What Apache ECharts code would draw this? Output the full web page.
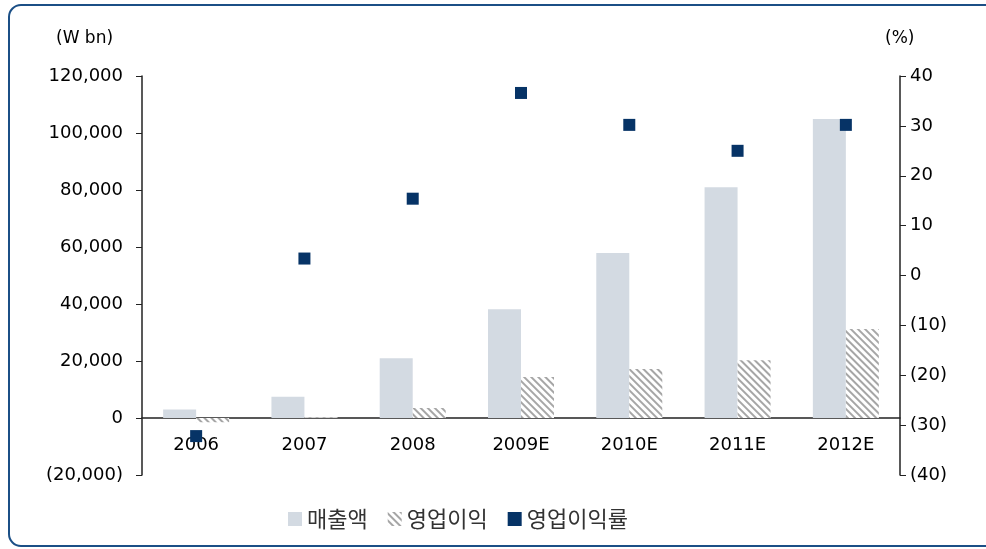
<!DOCTYPE html>
<html>
<head>
<meta charset="utf-8">
<script src="https://cdn.jsdelivr.net/npm/echarts@6/dist/echarts.min.js"></script>
<style>
html,body{margin:0;padding:0;background:#fff;overflow:hidden;}
#frame{position:absolute;left:8px;top:4px;width:1000px;height:543px;border:2.5px solid #1b4f86;border-radius:13px;box-sizing:border-box;}
#chart{position:absolute;left:0;top:0;width:986px;height:549px;}
</style>
</head>
<body>
<div id="frame"></div>
<div id="chart"></div>
<script>
var categories = ['2006', '2007', '2008', '2009E', '2010E', '2011E', '2012E'];
var sales = [3000, 7500, 21000, 38200, 57900, 81000, 104900];
var opProfit = [-1500, 250, 3500, 14400, 17200, 20300, 31200];
var opMargin = [-32.2, 3.4, 15.4, 36.6, 30.2, 25.0, 30.2];
var seriesNames = ['매출액', '영업이익', '영업이익률'];
var leftUnit = '(W bn)';
var rightUnit = '(%)';

function fmt(v) {
  var neg = v < 0;
  var s = String(Math.abs(v)).replace(/\B(?=(\d{3})+(?!\d))/g, ',');
  return neg ? '(' + s + ')' : s;
}

var FONT = 'DejaVu Sans';
var KFONT = 'Noto Sans CJK KR';
var chart = echarts.init(document.getElementById('chart'));
chart.setOption({
  animation: false,
  backgroundColor: 'transparent',
  grid: { left: 142, right: 86, top: 76, bottom: 74, containLabel: false },
  graphic: [
    { type: 'text', left: 56, top: 30, style: { text: leftUnit, font: '17px "DejaVu Sans"', fill: '#000' } },
    { type: 'text', left: 885, top: 30, style: { text: rightUnit, font: '17px "DejaVu Sans"', fill: '#000' } }
  ],
  legend: {
    bottom: 14,
    left: 283,
    itemWidth: 14,
    itemHeight: 14,
    itemGap: 20,
    textStyle: { fontFamily: KFONT, fontSize: 22, color: '#333' },
    data: [
      { name: seriesNames[0], icon: 'rect' },
      { name: seriesNames[1], icon: 'rect' },
      { name: seriesNames[2], icon: 'rect' }
    ]
  },
  xAxis: {
    type: 'category',
    data: categories,
    offset: -57,
    axisLine: { onZero: false, lineStyle: { color: '#222', width: 1.5 } },
    axisTick: { inside: true, length: 6, lineStyle: { color: '#222' } },
    axisLabel: { margin: 18, fontFamily: FONT, fontSize: 18, color: '#000' }
  },
  yAxis: [
    {
      type: 'value', min: -20000, max: 120000, interval: 20000,
      splitLine: { show: false },
      axisLine: { show: true, lineStyle: { color: '#222', width: 1.5 } },
      axisTick: { show: true, length: 6, lineStyle: { color: '#222' } },
      axisLabel: { margin: 19, fontFamily: FONT, fontSize: 18, color: '#000', formatter: fmt }
    },
    {
      type: 'value', min: -40, max: 40, interval: 10, position: 'right',
      splitLine: { show: false },
      axisLine: { show: true, lineStyle: { color: '#222', width: 1.5 } },
      axisTick: { show: true, length: 6, lineStyle: { color: '#222' } },
      axisLabel: { margin: 10, fontFamily: FONT, fontSize: 18, color: '#000', formatter: fmt }
    }
  ],
  series: [
    {
      name: seriesNames[0], type: 'bar', data: sales, barWidth: 33, barGap: '0%',
      itemStyle: { color: '#d3dae2' }
    },
    {
      name: seriesNames[1], type: 'bar', data: opProfit, barWidth: 33, barGap: '0%',
      itemStyle: {
        color: '#ffffff',
        decal: { symbol: 'rect', symbolSize: 1, dashArrayX: [[1, 0]], dashArrayY: [1.5, 2.5], rotation: Math.PI / 4, color: '#a6a6a6' }
      }
    },
    {
      name: seriesNames[2], type: 'scatter', yAxisIndex: 1, data: opMargin, symbol: 'rect', symbolSize: 12,
      itemStyle: { color: '#063366', opacity: 1 }, z: 5
    }
  ]
});
</script>
</body>
</html>
